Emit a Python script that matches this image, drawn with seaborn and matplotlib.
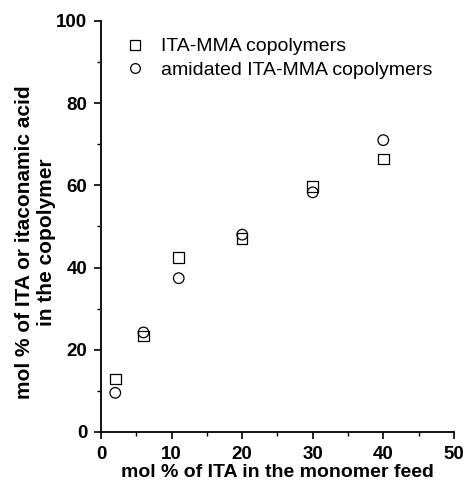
import matplotlib
matplotlib.use("Agg")
import matplotlib.pyplot as plt
import pandas as pd
import seaborn as sns
from matplotlib.ticker import MultipleLocator

# values
feed = [2, 6, 11, 20, 30, 40]
ita_mma = [12.9, 23.3, 42.5, 47.0, 59.7, 66.4]
amidated = [9.5, 24.2, 37.4, 48.0, 58.3, 71.0]
series_names = ["ITA-MMA copolymers", "amidated ITA-MMA copolymers"]

frame = pd.DataFrame({
    "feed": feed * 2,
    "content": ita_mma + amidated,
    "series": [series_names[0]] * len(feed) + [series_names[1]] * len(feed),
})

sns.set_theme(style="ticks")
plt.rcParams["font.family"] = ["Liberation Sans", "DejaVu Sans"]
plt.rcParams["text.color"] = "black"
plt.rcParams["axes.labelcolor"] = "black"

fig = plt.figure(figsize=(4.64, 4.88), dpi=100)
ax = fig.add_axes([0.218, 0.115, 0.760, 0.842])

sns.scatterplot(
    data=frame, x="feed", y="content", hue="series", style="series",
    markers={series_names[0]: "s", series_names[1]: "o"},
    palette={series_names[0]: "black", series_names[1]: "black"},
    s=58, linewidth=0.9, ax=ax, legend=False,
)
for coll in ax.collections:
    coll.set_facecolor("none")
    coll.set_edgecolor("black")

# legend handles
h1 = plt.Line2D([], [], marker="s", linestyle="none", markerfacecolor="none",
                markeredgecolor="black", markersize=6.5, markeredgewidth=0.9)
h2 = plt.Line2D([], [], marker="o", linestyle="none", markerfacecolor="none",
                markeredgecolor="black", markersize=7, markeredgewidth=0.9)
ax.legend([h1, h2], series_names, loc="upper left", bbox_to_anchor=(0.045, 0.978),
          frameon=False, fontsize=14, handletextpad=0.85, borderaxespad=0,
          labelspacing=0.3, handlelength=1.0)

ax.set_xlim(0, 50)
ax.set_ylim(0, 100)
ax.xaxis.set_major_locator(MultipleLocator(10))
ax.xaxis.set_minor_locator(MultipleLocator(5))
ax.yaxis.set_major_locator(MultipleLocator(20))
ax.yaxis.set_minor_locator(MultipleLocator(10))
ax.tick_params(which="major", direction="out", length=5, width=1.2, colors="black",
               labelsize=13.5, pad=5)
ax.tick_params(which="minor", direction="out", length=3, width=1.0, colors="black")
for lab in ax.get_xticklabels() + ax.get_yticklabels():
    lab.set_fontweight("bold")

sns.despine(ax=ax)
for side in ("left", "bottom"):
    ax.spines[side].set_linewidth(1.3)
    ax.spines[side].set_color("black")

ax.set_xlabel("mol % of ITA in the monomer feed", fontsize=14, fontweight="bold",
              labelpad=1)
ax.set_ylabel("mol % of ITA or itaconamic acid\nin the copolymer", fontsize=15,
              fontweight="bold", labelpad=0, linespacing=1.2)
ax.yaxis.label.set_y(0.462)

fig.savefig("out.png", dpi=100)
